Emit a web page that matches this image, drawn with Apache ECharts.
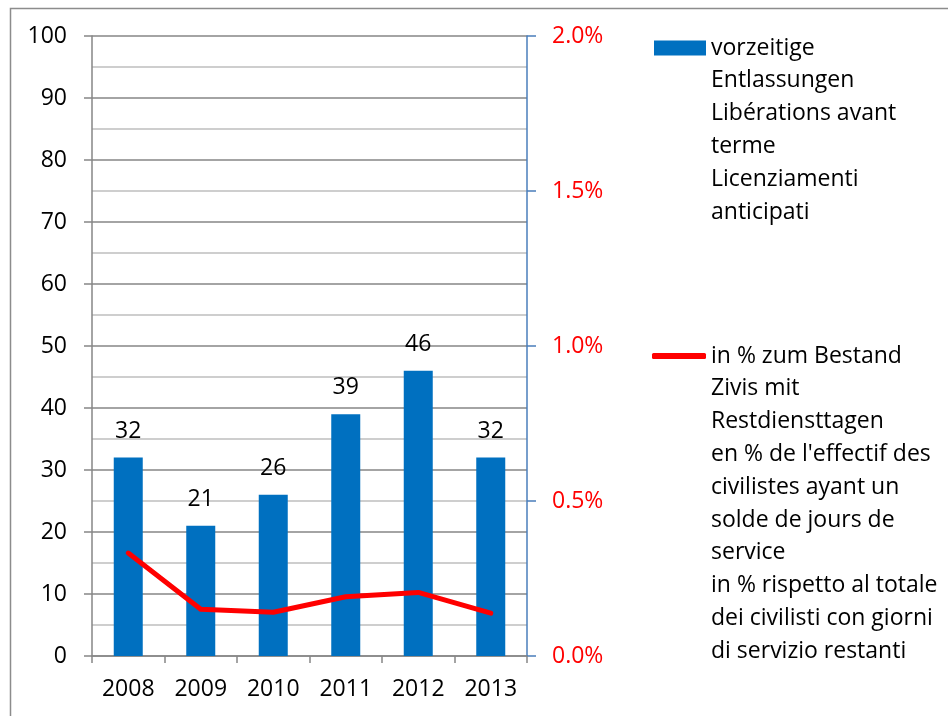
<!DOCTYPE html>
<html>
<head>
<meta charset="utf-8">
<script src="https://cdn.jsdelivr.net/npm/echarts@6/dist/echarts.min.js"></script>
<style>
  html, body { margin: 0; padding: 0; background: #fff; }
  #chart { width: 948px; height: 716px; }
</style>
</head>
<body>
<div id="chart"></div>
<script>
// Jahre
const years = ['2008', '2009', '2010', '2011', '2012', '2013'];
// vorzeitige Entlassungen (Anzahl)
const releases = [32, 21, 26, 39, 46, 32];
// in % zum Bestand (Prozent)
const sharePct = [0.332, 0.151, 0.141, 0.191, 0.205, 0.138];

const barLines = ['vorzeitige', 'Entlassungen', 'Libérations avant', 'terme', 'Licenziamenti', 'anticipati'];
const lineLines = ['in % zum Bestand', 'Zivis mit', 'Restdiensttagen', 'en % de l\'effectif des',
    'civilistes ayant un', 'solde de jours de', 'service', 'in % rispetto al totale',
    'dei civilisti con giorni', 'di servizio restanti'];

const FONT = 'Open Sans';
const FS = 23;
const LH = 32.8;

// Legende: leere Zeilen davor, damit das Symbol auf Höhe der ersten Zeile steht
function legendName(lines) {
    return '\n'.repeat(lines.length - 1) + lines.join('\n');
}
function legendTop(lines, iconY) {
    return iconY - ((2 * lines.length - 1) * LH) / 2;
}
const barName = legendName(barLines);
const lineName = legendName(lineLines);

const myChart = echarts.init(document.getElementById('chart'));

const option = {
    backgroundColor: '#fff',
    animation: false,
    textStyle: { fontFamily: FONT },
    graphic: [{
        type: 'rect',
        left: 8,
        top: 6,
        shape: { width: 980, height: 760 },
        style: { fill: 'none', stroke: '#8c8c8c', lineWidth: 1.5 },
        silent: true
    }],
    legend: [{
        data: [{ name: barName }],
        left: 654,
        top: legendTop(barLines, 48),
        padding: 0,
        itemWidth: 52,
        itemHeight: 15,
        icon: 'rect',
        textStyle: { fontFamily: FONT, fontSize: FS, color: '#000', lineHeight: LH }
    }, {
        data: [{ name: lineName }],
        left: 652,
        top: legendTop(lineLines, 356),
        padding: 0,
        itemWidth: 54,
        itemHeight: 6,
        icon: 'roundRect',
        textStyle: { fontFamily: FONT, fontSize: FS, color: '#000', lineHeight: LH }
    }],
    grid: {
        left: 92,
        right: 421,
        top: 36,
        bottom: 60
    },
    xAxis: {
        type: 'category',
        data: years,
        axisLine: { lineStyle: { color: '#868686', width: 1.5 } },
        axisTick: { show: true, length: 7, lineStyle: { color: '#868686', width: 1.5 } },
        axisLabel: { color: '#000', fontSize: FS, fontFamily: FONT, margin: 22 }
    },
    yAxis: [{
        type: 'value',
        min: 0,
        max: 100,
        interval: 10,
        axisLine: { show: true, lineStyle: { color: '#868686', width: 1.5 } },
        axisTick: { show: true, length: 8, lineStyle: { color: '#868686', width: 1.5 } },
        axisLabel: { color: '#000', fontSize: FS, fontFamily: FONT, margin: 25 },
        splitLine: { lineStyle: { color: '#868686', width: 1.5 } },
        minorTick: { show: false, splitNumber: 2 },
        minorSplitLine: { show: true, lineStyle: { color: '#bfbfbf', width: 1.5 } }
    }, {
        type: 'value',
        min: 0,
        max: 2,
        interval: 0.5,
        position: 'right',
        axisLine: { show: true, lineStyle: { color: '#4a7ebb', width: 1.5 } },
        axisTick: { show: true, length: 9, lineStyle: { color: '#4a7ebb', width: 1.5 } },
        axisLabel: {
            color: '#ff0000',
            fontSize: FS,
            fontFamily: FONT,
            margin: 25,
            formatter: v => v.toFixed(1) + '%'
        },
        splitLine: { show: false }
    }],
    series: [{
        name: barName,
        type: 'bar',
        data: releases,
        barWidth: 29,
        itemStyle: { color: '#0070c0' },
        label: {
            show: true,
            position: 'top',
            distance: 15,
            color: '#000',
            fontSize: FS,
            fontFamily: FONT
        }
    }, {
        name: lineName,
        type: 'line',
        yAxisIndex: 1,
        data: sharePct,
        symbol: 'none',
        itemStyle: { color: '#ff0000' },
        lineStyle: { color: '#ff0000', width: 5, cap: 'round', join: 'round' }
    }]
};

myChart.setOption(option);
</script>
</body>
</html>
